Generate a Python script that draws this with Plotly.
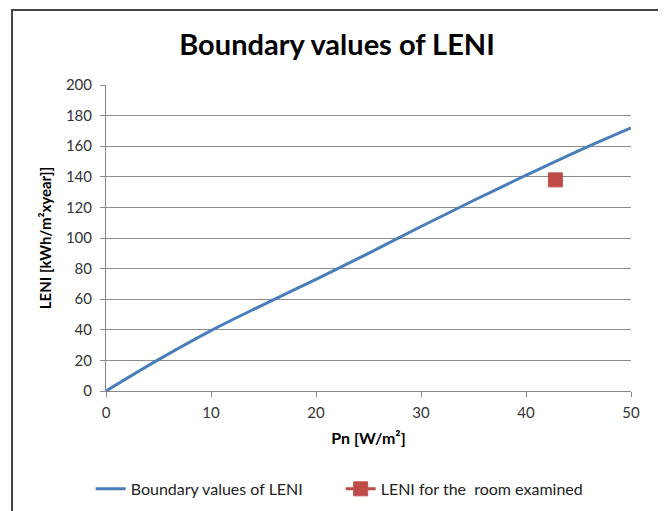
import plotly.graph_objects as go

pn = [0, 5, 10, 15, 20, 25, 30, 35, 40, 45, 50]
leni_boundary = [0, 20.5, 39.5, 56.5, 73, 90, 107.5, 124.5, 141, 157, 172]
room_pn = [42.8]
room_leni = [138]

font = "Lato, Calibri, 'Open Sans', sans-serif"

fig = go.Figure()
fig.add_trace(go.Scatter(x=pn, y=leni_boundary, mode="lines", name="Boundary values of LENI",
                         line=dict(color="#4a7ebb", width=3, shape="spline")))
fig.add_trace(go.Scatter(x=room_pn, y=room_leni, mode="lines+markers", name="LENI for the  room examined",
                         line=dict(color="#be4b48", width=3),
                         marker=dict(symbol="square", size=14, color="#be4b48",
                                     line=dict(color="#c0504d", width=1))))

fig.update_layout(
    width=666, height=511,
    paper_bgcolor="white", plot_bgcolor="white",
    margin=dict(l=98, r=43, t=77, b=128),
    title=dict(text="<b>Boundary values of LENI</b>", x=0.494, xanchor="center", y=0.928, yanchor="middle",
               xref="container", yref="container",
               font=dict(family=font, size=29, color="black")),
    font=dict(family=font, size=15, color="#404040"),
    xaxis=dict(range=[0, 50], tickvals=[0, 10, 20, 30, 40, 50], showgrid=False, zeroline=False,
               showline=True, linecolor="#888888", linewidth=1, ticks="outside", ticklen=5,
               tickcolor="#888888", tickfont=dict(size=15, color="#333333"), ticklabelstandoff=3,
               title=dict(text="<b>Pn [W/m²]</b>", font=dict(size=16, color="black"), standoff=12)),
    yaxis=dict(range=[0, 200], tickvals=list(range(0, 201, 20)), showgrid=True, gridcolor="#8c8c8c",
               gridwidth=1, zeroline=False, showline=True, linecolor="#888888", linewidth=1,
               ticks="outside", ticklen=5, tickcolor="#888888", tickfont=dict(size=15, color="#333333"),
               ticklabelstandoff=5,
               title=dict(text="<b>LENI [kWh/m²xyear]]</b>", font=dict(size=15, color="black"), standoff=10)),
    legend=dict(orientation="h", x=0.447, xanchor="center", y=-0.32, yanchor="middle",
                font=dict(size=16, color="#222222"), tracegroupgap=0,
                entrywidth=205, entrywidthmode="pixels"),
    showlegend=True,
    shapes=[dict(type="rect", xref="paper", yref="paper", x0=-0.179, x1=1.055, y0=-0.5, y1=1.245,
                 line=dict(color="#444444", width=2), fillcolor="rgba(0,0,0,0)", layer="below")],
)

fig.write_html("out.html")
